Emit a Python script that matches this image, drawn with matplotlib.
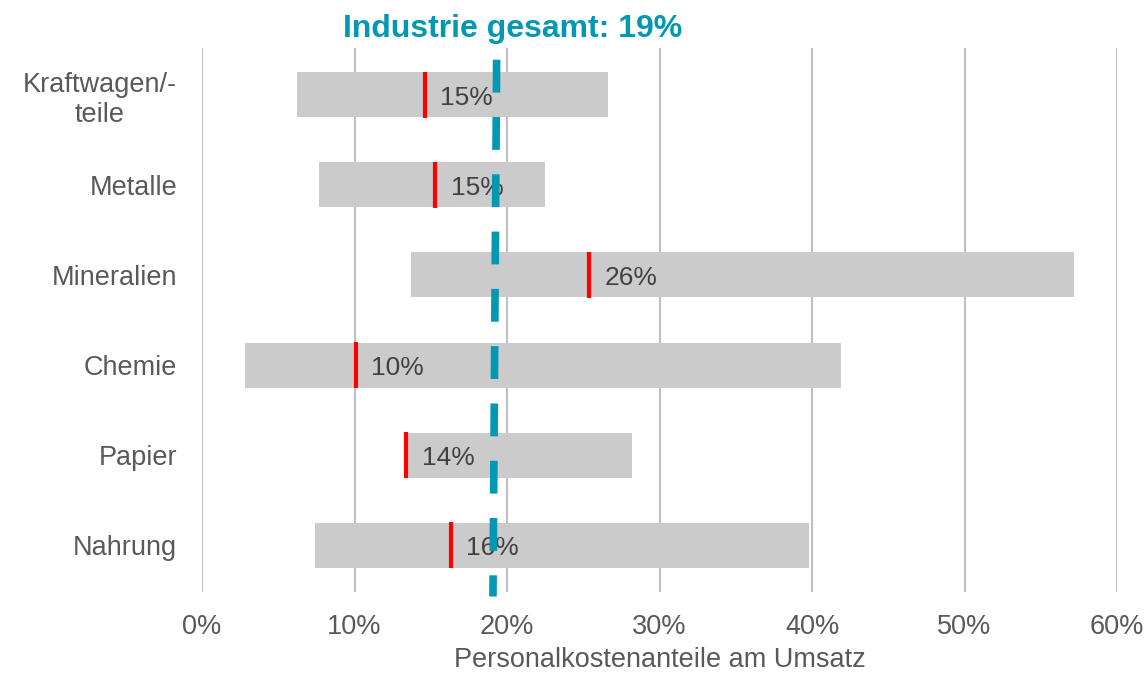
import matplotlib.pyplot as plt
from matplotlib.ticker import PercentFormatter

plt.rcParams['font.family'] = ['Liberation Sans', 'DejaVu Sans']

# Personalkostenanteile am Umsatz (in %)
branchen = ['Kraftwagen/-\nteile', 'Metalle', 'Mineralien', 'Chemie', 'Papier', 'Nahrung']
spanne_min = [6.2, 7.7, 13.7, 2.8, 13.4, 7.4]
spanne_max = [26.6, 22.5, 57.2, 41.9, 28.2, 39.8]
median = [14.6, 15.3, 25.4, 10.1, 13.4, 16.3]
median_label = ['15%', '15%', '26%', '10%', '14%', '16%']
industrie_gesamt = 19.2
x_ticks = [0, 10, 20, 30, 40, 50, 60]

grau = '#cbcbcb'
rot = '#ff0000'
tuerkis = '#0098b3'
text_grau = '#595959'

fig = plt.figure(figsize=(11.48, 6.76), dpi=100)
ax = fig.add_axes([202 / 1148, 84 / 676, 915 / 1148, 544 / 676])

y = list(range(len(branchen)))
breite = [hi - lo for lo, hi in zip(spanne_min, spanne_max)]
ax.barh(y, breite, left=spanne_min, height=0.5, color=grau, zorder=2)

ax.vlines(median, [i - 0.255 for i in y], [i + 0.255 for i in y],
          color=rot, linewidth=3, zorder=3)
for i, (m, lab) in enumerate(zip(median, median_label)):
    ax.text(m + 1.0, i + 0.03, lab, va='center', ha='left', fontsize=19,
            color='#404040', zorder=4)

# Industrie gesamt, gestrichelt
ax.plot([industrie_gesamt + 0.12, industrie_gesamt - 0.12], [-0.39, 5.57],
        color=tuerkis, linewidth=5.5, dashes=(4.3, 3.2),
        solid_capstyle='butt', dash_capstyle='butt', clip_on=False, zorder=5)
ax.text(20.4, -0.73, 'Industrie gesamt: 19%', ha='center', va='center',
        fontsize=23, fontweight='bold', color=tuerkis)

ax.set_xlim(0, 60)
ax.set_ylim(5.52, -0.52)
ax.set_xticks(x_ticks)
ax.xaxis.set_major_formatter(PercentFormatter(decimals=0))
ax.set_yticks(y)
ax.set_yticklabels(branchen, ha='right', multialignment='center')
ax.tick_params(axis='y', length=0, pad=18, labelsize=19.5, labelcolor=text_grau)
ax.tick_params(axis='x', length=0, pad=16, labelsize=19.5, labelcolor=text_grau)
ax.grid(axis='x', color='#bfbfbf', linewidth=1.5, zorder=0)
ax.set_axisbelow(True)
for s in ax.spines.values():
    s.set_visible(False)

ax.set_xlabel('Personalkostenanteile am Umsatz', fontsize=19.5, color=text_grau,
              labelpad=5)

fig.savefig('out.png', dpi=100)
